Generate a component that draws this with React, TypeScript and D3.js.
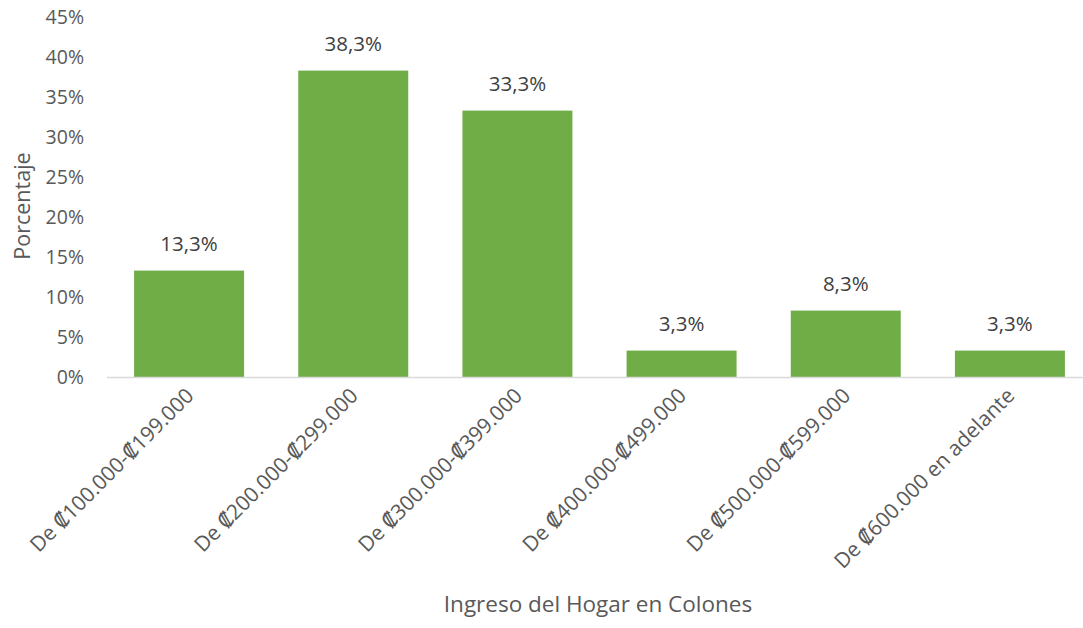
import React from "react";
import * as d3 from "d3";

const categories: string[] = [
  "De ₡100.000-₡199.000",
  "De ₡200.000-₡299.000",
  "De ₡300.000-₡399.000",
  "De ₡400.000-₡499.000",
  "De ₡500.000-₡599.000",
  "De ₡600.000 en adelante",
];
const values: number[] = [13.3, 38.3, 33.3, 3.3, 8.3, 3.3];
const valueLabels: string[] = ["13,3%", "38,3%", "33,3%", "3,3%", "8,3%", "3,3%"];
const yTicks: number[] = [0, 5, 10, 15, 20, 25, 30, 35, 40, 45];
const yTitle = "Porcentaje";
const xTitle = "Ingreso del Hogar en Colones";

const W = 1083;
const H = 628;
const FONT = "'Open Sans', 'DejaVu Sans', sans-serif";
const TEXT = "#595959";
const BAR = "#70ad47";

export default function App() {
  const x = d3
    .scaleBand<string>()
    .domain(categories)
    .range([107, 1092])
    .paddingInner(0.33)
    .paddingOuter(0.165);
  const y = d3.scaleLinear().domain([0, 45]).range([377, 17]);
  const y0 = y(0);

  return (
    <svg
      width={W}
      height={H}
      style={{ position: "absolute", left: 0, top: 0, background: "#fff" }}
      fontFamily={FONT}
    >
      {yTicks.map((t) => (
        <text
          key={t}
          x={84}
          y={y(t)}
          dy="0.36em"
          textAnchor="end"
          fontSize={19.5}
          fill={TEXT}
        >
          {`${t}%`}
        </text>
      ))}
      {categories.map((c, i) => (
        <rect
          key={c}
          x={x(c)}
          y={y(values[i])}
          width={x.bandwidth()}
          height={y0 - y(values[i])}
          fill={BAR}
        />
      ))}
      <line x1={107} x2={1092} y1={y0 + 0.5} y2={y0 + 0.5} stroke="#d9d9d9" strokeWidth={1.5} />
      {categories.map((c, i) => (
        <text
          key={c}
          x={(x(c) as number) + x.bandwidth() / 2}
          y={y(values[i]) - 20}
          textAnchor="middle"
          fontSize={20.5}
          fill="#404040"
        >
          {valueLabels[i]}
        </text>
      ))}
      {categories.map((c) => {
        const cx = (x(c) as number) + x.bandwidth() / 2;
        const ax = cx + 6;
        const ay = y0 + 20;
        return (
          <text
            key={c}
            x={ax}
            y={ay}
            textAnchor="end"
            fontSize={21}
            fill={TEXT}
            transform={`rotate(-45, ${ax}, ${ay})`}
          >
            {c}
          </text>
        );
      })}
      <text
        x={0}
        y={0}
        transform={`translate(30, 206) rotate(-90)`}
        textAnchor="middle"
        fontSize={21.5}
        fill={TEXT}
      >
        {yTitle}
      </text>
      <text x={598} y={612} textAnchor="middle" fontSize={22.5} fill={TEXT}>
        {xTitle}
      </text>
    </svg>
  );
}
